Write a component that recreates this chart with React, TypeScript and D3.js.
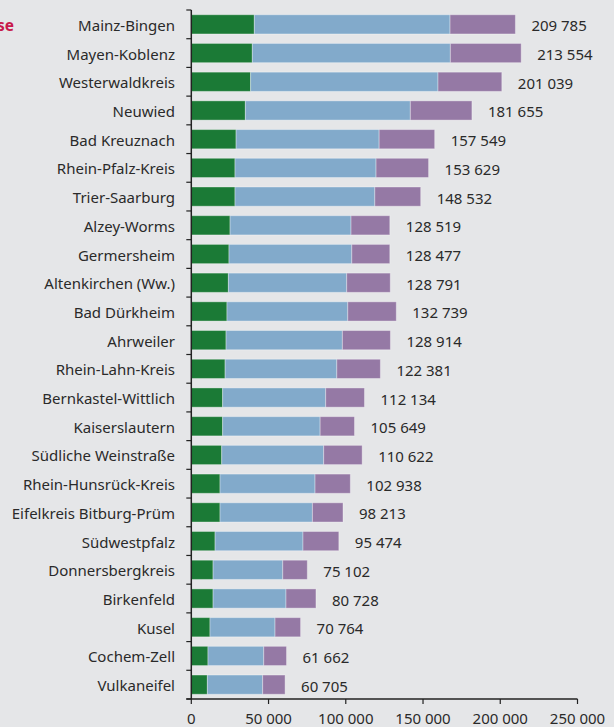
import React from "react";
import * as d3 from "d3";

const categories = [
  "Mainz-Bingen", "Mayen-Koblenz", "Westerwaldkreis", "Neuwied", "Bad Kreuznach",
  "Rhein-Pfalz-Kreis", "Trier-Saarburg", "Alzey-Worms", "Germersheim", "Altenkirchen (Ww.)",
  "Bad Dürkheim", "Ahrweiler", "Rhein-Lahn-Kreis", "Bernkastel-Wittlich", "Kaiserslautern",
  "Südliche Weinstraße", "Rhein-Hunsrück-Kreis", "Eifelkreis Bitburg-Prüm", "Südwestpfalz",
  "Donnersbergkreis", "Birkenfeld", "Kusel", "Cochem-Zell", "Vulkaneifel",
];
const greenValues = [40800, 39500, 38400, 35000, 29000, 28300, 28300, 25100, 24400, 24000, 23100, 22500, 21900, 20300, 20300, 19700, 18600, 18600, 15400, 14100, 14100, 12100, 10800, 10400];
const blueValues = [126700, 128200, 121300, 106800, 92600, 91300, 90500, 78300, 79500, 76600, 78200, 75300, 72300, 66700, 63100, 66000, 61500, 59800, 56900, 45100, 47200, 42100, 36100, 35800];
const purpleValues = [42300, 45850, 41300, 39850, 35950, 34000, 29700, 25100, 24600, 28200, 31400, 31100, 28200, 25100, 22250, 24900, 22850, 19800, 23200, 15900, 19400, 16550, 14750, 14500];
const totals = [209785, 213554, 201039, 181655, 157549, 153629, 148532, 128519, 128477, 128791, 132739, 128914, 122381, 112134, 105649, 110622, 102938, 98213, 95474, 75102, 80728, 70764, 61662, 60705];
const xTicks = [0, 50000, 100000, 150000, 200000, 250000];
const titleText = "Landkreise";

const W = 614;
const H = 727;
const FONT = "'Noto Sans', sans-serif";
const TEXT = "#2a2a2a";
const COLORS = ["#1b7a36", "#82aacb", "#9579a5"];
const TOP = 10;
const BOTTOM = 699;

export default function App() {
  const rows = categories.map((c, i) => ({
    cat: c,
    g: greenValues[i],
    b: blueValues[i],
    p: purpleValues[i],
    total: totals[i],
  }));
  const x = d3.scaleLinear().domain([0, 250000]).range([191.3, 577.5]);
  const y = d3.scaleBand<string>().domain(categories).range([TOP, BOTTOM]).paddingInner(0.33).paddingOuter(0.165);
  const stack = d3.stack<any>().keys(["g", "b", "p"]);
  const series = stack(rows);
  const fmt = d3.formatLocale({ decimal: ",", thousands: " ", grouping: [3], currency: ["", "€"] }).format(",d");
  const boundaries = d3.range(categories.length + 1).map((i) => TOP + i * ((BOTTOM - TOP) / categories.length));

  return (
    <div style={{ position: "absolute", left: 0, top: 0 }}>
      <svg width={W} height={H} style={{ display: "block" }}>
        <rect x={0} y={0} width={W} height={H} fill="#e5e6e8" />
        <text x={14} y={25} textAnchor="end" dominantBaseline="central" fill="#c8194b" fontFamily={FONT} fontWeight="bold" fontSize={15.5}>
          {titleText}
        </text>
        {series.map((s, si) => (
          <g key={si} fill={COLORS[si]}>
            {s.map((d, i) => (
              <rect
                key={i}
                x={x(d[0])}
                y={y(rows[i].cat)!}
                width={x(d[1]) - x(d[0])}
                height={y.bandwidth()}
                stroke="rgba(255,255,255,0.35)"
                strokeWidth={1}
              />
            ))}
          </g>
        ))}
        {rows.map((r) => (
          <g key={r.cat}>
            <text
              x={175}
              y={y(r.cat)! + y.bandwidth() / 2 + 0.5}
              textAnchor="end"
              dominantBaseline="central"
              fill={TEXT}
              fontFamily={FONT}
              fontSize={15}
            >
              {r.cat}
            </text>
            <text
              x={x(r.g + r.b + r.p) + 16}
              y={y(r.cat)! + y.bandwidth() / 2 + 1}
              dominantBaseline="central"
              fill={TEXT}
              fontFamily={FONT}
              fontSize={15}
            >
              {fmt(r.total)}
            </text>
          </g>
        ))}
        {/* y axis */}
        <line x1={x(0)} x2={x(0)} y1={TOP} y2={BOTTOM} stroke="#222" strokeWidth={1.5} />
        {boundaries.map((b, i) => (
          <line key={i} x1={x(0) - 5} x2={x(0)} y1={b} y2={b} stroke="#222" strokeWidth={1.2} />
        ))}
        {/* x axis */}
        <line x1={x(0) - 5} x2={x(250000)} y1={BOTTOM} y2={BOTTOM} stroke="#222" strokeWidth={1.5} />
        {xTicks.map((t) => (
          <g key={t}>
            <line x1={x(t)} x2={x(t)} y1={BOTTOM} y2={BOTTOM + 5} stroke="#222" strokeWidth={1.2} />
            <text x={x(t)} y={724} textAnchor="middle" fill={TEXT} fontFamily={FONT} fontSize={15}>
              {fmt(t)}
            </text>
          </g>
        ))}
      </svg>
    </div>
  );
}
